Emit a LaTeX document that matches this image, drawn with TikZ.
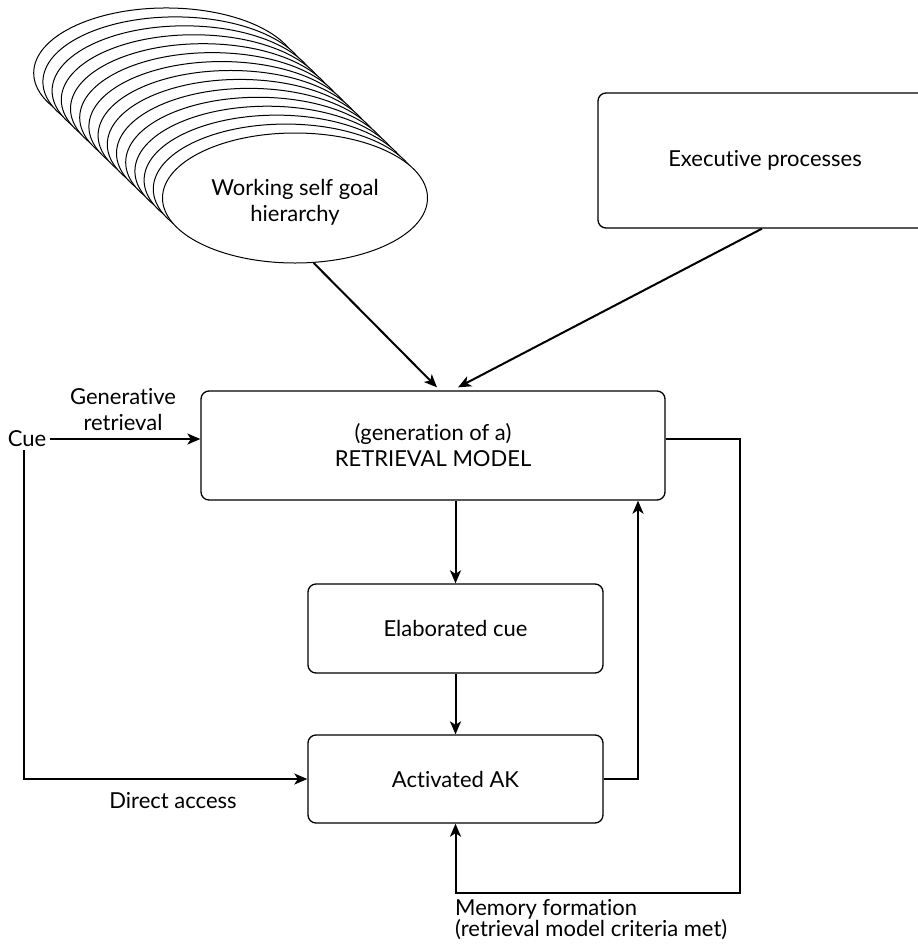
\documentclass[tikz,border=0pt]{standalone}
\usepackage{fontspec}
\setmainfont[Ligatures={NoCommon}]{Lato}
\usetikzlibrary{arrows.meta,shapes.geometric,calc}
\begin{document}
\begin{tikzpicture}[x=1pt,y=-1pt,
  font=\fontsize{22}{26}\selectfont,
  box/.style={draw,line width=1.3pt,rounded corners=8pt,fill=white,inner sep=0pt,align=center},
  arr/.style={line width=2pt,-{Stealth[length=13pt,width=11pt,inset=3.5pt]}},
  lbl/.style={inner sep=0pt,align=center}]
\useasboundingbox (0,0) rectangle (918,948);
\clip (0,0) rectangle (918,948);
% stack of ellipses
\foreach \i in {14,13,...,1}{
  \draw[line width=1pt,fill=white] (295-9.2*\i,198-8.93*\i) ellipse [x radius=132.5pt,y radius=65pt];
}
\node[ellipse,draw,line width=1pt,fill=white,minimum width=265pt,minimum height=130pt,inner sep=0pt,align=center] (ws) at (295,198) {};
\node[lbl] (wstxt) at (295,202) {Working self goal\\hierarchy};
% boxes
\node[box,minimum width=334pt,minimum height=135pt] (ex) at (765,160.5) {Executive processes};
\node[box,minimum width=464pt,minimum height=109pt] (rm) at (433,445.5) {(generation of a)\\RETRIEVAL MODEL};
\node[box,minimum width=295pt,minimum height=89pt] (ec) at (455.5,628.5) {Elaborated cue};
\node[box,minimum width=295pt,minimum height=88pt] (ak) at (455.5,779) {Activated AK};
% labels
\node[lbl] (cue) at (27,439) {Cue};
\node[lbl] (gen) at (123,410) {Generative\\retrieval};
\node[lbl] (da) at (173,801) {Direct access};
\node[lbl,anchor=north west,align=left,font=\fontsize{22}{21}\selectfont] (mf) at (455,899) {Memory formation\\(retrieval model criteria met)};
% coordinates
\coordinate (upx) at (638,0);
\coordinate (loopC) at (740,893);
% connectors
\draw[arr] (ws.-74) -- ([xshift=4pt,yshift=3pt]rm.north);
\draw[arr] ([xshift=-3pt]ex.south) -- ([xshift=25pt,yshift=3pt]rm.north);
\draw[arr] (cue.east) ++(4pt,0) -- ([yshift=6.5pt]rm.west);
\draw[arr] ([xshift=-3pt]cue.south) ++(0,-3pt) |- (ak.west);
\draw[arr] (rm.south -| ec.north) -- (ec.north);
\draw[arr] (ec.south) -- (ak.north);
\draw[arr] (ak.east) -| (rm.south -| upx);
\draw[arr] ([yshift=6.5pt]rm.east) -| (loopC) -- (loopC -| ak.south) -- (ak.south);
\end{tikzpicture}
\end{document}
